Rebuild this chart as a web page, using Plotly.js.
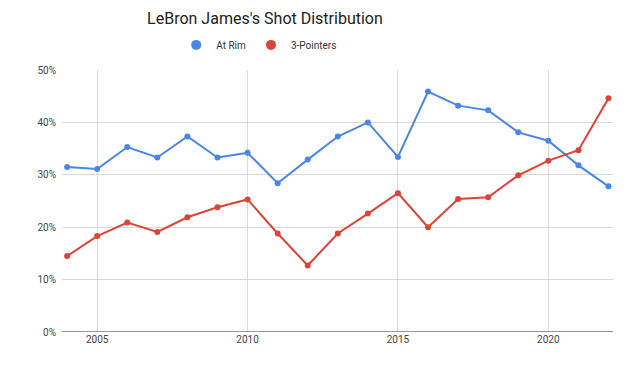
<!DOCTYPE html>
<html><head><meta charset="utf-8">
<script src="https://cdn.plot.ly/plotly-3.0.1.min.js"></script>
<style>html,body{margin:0;padding:0;background:#fff}#c{width:640px;height:371px}</style>
</head><body><div id="c"></div>
<script>
const years = [2004,2005,2006,2007,2008,2009,2010,2011,2012,2013,2014,2015,2016,2017,2018,2019,2020,2021,2022];
const atRim = [31.5,31.1,35.3,33.3,37.3,33.3,34.2,28.4,32.9,37.3,40.0,33.4,45.9,43.2,42.3,38.1,36.5,31.8,27.8];
const threes = [14.5,18.3,20.9,19.1,21.9,23.8,25.3,18.8,12.7,18.8,22.6,26.5,20.0,25.4,25.7,29.9,32.7,34.7,44.6];
const yTicks = [0,10,20,30,40,50];
const yTickText = yTicks.map(v => v + '%');
const xTicks = [2005,2010,2015,2020];
const blue = '#4a86e8', red = '#db4437';

const traces = [
  {x: years, y: atRim, name: 'At Rim', mode: 'lines+markers', type: 'scatter', showlegend: false,
   line: {color: blue, width: 2}, marker: {color: blue, size: 6}},
  {x: years, y: threes, name: '3-Pointers', mode: 'lines+markers', type: 'scatter', showlegend: false,
   line: {color: red, width: 2}, marker: {color: red, size: 6}},
  {x: [null], y: [null], name: 'At Rim', mode: 'markers', type: 'scatter', marker: {color: blue, size: 10}},
  {x: [null], y: [null], name: '3-Pointers', mode: 'markers', type: 'scatter', marker: {color: red, size: 10}}
];
const layout = {
  width: 640, height: 371,
  margin: {l: 62, r: 27, t: 70, b: 38.5, pad: 0},
  paper_bgcolor: '#fff', plot_bgcolor: '#fff',
  font: {family: 'Roboto, Arial, sans-serif', color: '#444', size: 10},
  title: {text: "LeBron James's Shot Distribution", x: 0.414, xanchor: 'center', y: 0.951, yanchor: 'middle',
          font: {family: 'Roboto, Arial, sans-serif', size: 16, color: '#222'}},
  showlegend: true,
  legend: {orientation: 'h', x: 0.405, xref: 'container', xanchor: 'center', y: 0.879, yref: 'container', yanchor: 'middle',
           font: {size: 10, color: '#333'}, itemwidth: 30, tracegroupgap: 0, bgcolor: 'rgba(0,0,0,0)'},
  xaxis: {range: [2003.83, 2022.15], tickvals: xTicks, ticktext: xTicks.map(String),
          showgrid: true, gridcolor: '#d9d9d9', zeroline: false, showline: false,
          ticks: '', tickfont: {size: 10, color: '#444'}, fixedrange: true},
  yaxis: {range: [0, 50], tickvals: yTicks, ticktext: yTickText, showgrid: true, gridcolor: '#d9d9d9',
          zeroline: false, showline: false, ticks: '', tickfont: {size: 10, color: '#444'}, ticklabelstandoff: 5},
  shapes: [{type: 'line', xref: 'paper', yref: 'y', x0: 0, x1: 1, y0: 0, y1: 0, line: {color: '#333', width: 1}}]
};
Plotly.newPlot('c', traces, layout, {displayModeBar: false, staticPlot: true});
</script></body></html>
